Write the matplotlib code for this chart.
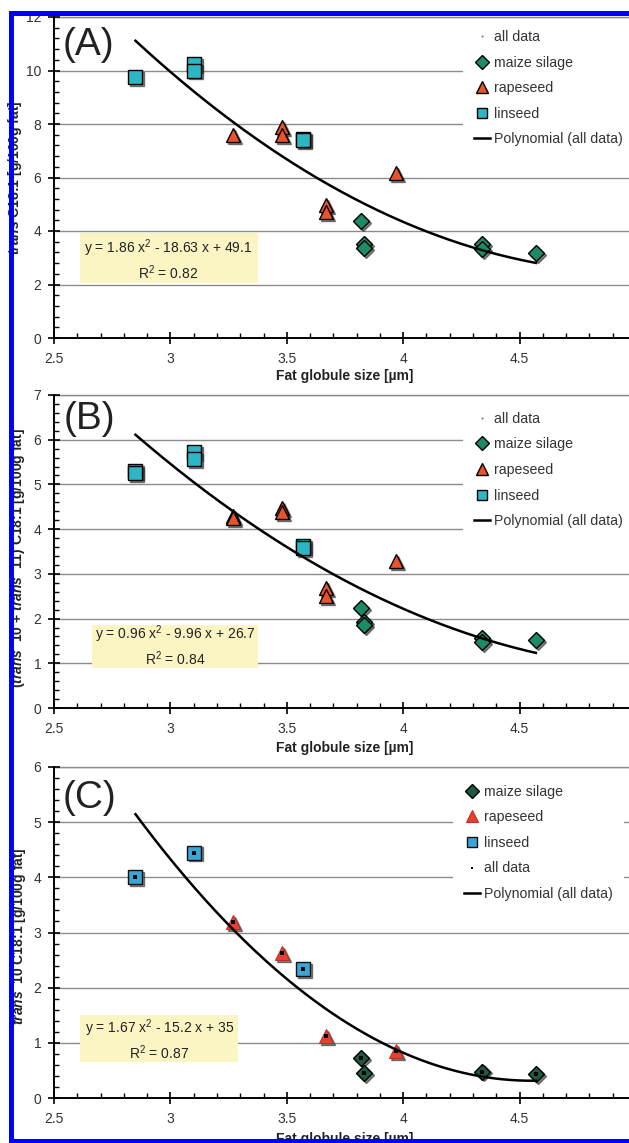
import numpy as np
import matplotlib
matplotlib.use("Agg")
import matplotlib.pyplot as plt
from matplotlib.ticker import MultipleLocator
from matplotlib.lines import Line2D
from matplotlib.patches import Rectangle
from matplotlib.transforms import offset_copy

plt.rcParams["font.family"] = ["Liberation Sans", "DejaVu Sans"]
plt.rcParams["mathtext.fontset"] = "custom"
plt.rcParams["mathtext.rm"] = "Liberation Sans"
plt.rcParams["mathtext.it"] = "Liberation Sans:italic:bold"
plt.rcParams["mathtext.bf"] = "Liberation Sans:bold"
plt.rcParams["mathtext.default"] = "regular"

# ---------------------------------------------------------------------------
# Data (fat globule size [um] vs. fatty acid content)
# ---------------------------------------------------------------------------

# (A) trans C18:1
a_lin_x = [2.85, 3.10, 3.10, 3.57, 3.57]
a_lin_y = [9.75, 10.25, 10.0, 7.45, 7.4]
a_rape_x = [3.27, 3.48, 3.48, 3.67, 3.67, 3.97]
a_rape_y = [7.6, 7.9, 7.6, 4.97, 4.7, 6.17]
a_maize_x = [3.82, 3.83, 3.83, 4.34, 4.34, 4.57]
a_maize_y = [4.37, 3.5, 3.38, 3.5, 3.32, 3.18]
a_coef = [1.86, -18.63, 49.1]

# (B) trans 10 + trans 11 C18:1
b_lin_x = [2.85, 2.85, 3.10, 3.10, 3.57, 3.57]
b_lin_y = [5.3, 5.25, 5.73, 5.57, 3.63, 3.58]
b_rape_x = [3.27, 3.27, 3.48, 3.48, 3.67, 3.67, 3.97]
b_rape_y = [4.3, 4.25, 4.48, 4.38, 2.68, 2.5, 3.28]
b_maize_x = [3.82, 3.83, 3.83, 4.34, 4.34, 4.57]
b_maize_y = [2.23, 1.93, 1.86, 1.56, 1.48, 1.52]
b_coef = [0.96, -9.96, 26.7]

# (C) trans 10 C18:1
c_lin_x = [2.85, 3.10, 3.57]
c_lin_y = [4.01, 4.45, 2.34]
c_rape_x = [3.27, 3.48, 3.67, 3.97]
c_rape_y = [3.19, 2.63, 1.13, 0.85]
c_maize_x = [3.82, 3.83, 4.34, 4.57]
c_maize_y = [0.73, 0.46, 0.48, 0.44]
c_coef = [1.67, -15.2, 34.9]

equations = [
    "y = 1.86 x$^2$ - 18.63 x + 49.1\nR$^2$ = 0.82",
    "y = 0.96 x$^2$ - 9.96 x + 26.7\nR$^2$ = 0.84",
    "y = 1.67 x$^2$ - 15.2 x + 35\nR$^2$ = 0.87",
]
panel_tags = ["(A)", "(B)", "(C)"]
ylabels = [
    r"$\it{trans}$ C18:1 [g/100g fat]",
    r"($\it{trans}$  10 + $\it{trans}$  11) C18:1 [g/100g fat]",
    r"$\it{trans}$  10 C18:1 [g/100g fat]",
]
xlabel = "Fat globule size [\u00b5m]"

# ---------------------------------------------------------------------------
# Layout (pixel positions of the three panels in a 629x1143 image)
# ---------------------------------------------------------------------------
W, H = 629, 1143
fig = plt.figure(figsize=(W / 100, H / 100), dpi=100)


def px_axes(left, top, right, bottom):
    return fig.add_axes([left / W, 1 - bottom / H, (right - left) / W, (bottom - top) / H])


ax_a = px_axes(54, 17, 636, 338)
ax_b = px_axes(54, 395, 636, 708)
ax_c = px_axes(54, 767, 636, 1098)

styles_ab = {
    "lin": dict(marker="s", ms=9.5, mfc="#2db6c3", mec="black", mew=1.0),
    "rape": dict(marker="^", ms=10.5, mfc="#e9532c", mec="black", mew=1.0),
    "maize": dict(marker="D", ms=8.5, mfc="#1e8b68", mec="black", mew=1.0),
    "all": dict(marker="o", ms=2, mfc="#8a8a8a", mec="#8a8a8a", mew=0),
}
styles_c = {
    "lin": dict(marker="s", ms=9.5, mfc="#3aa6d6", mec="#111111", mew=1.0),
    "rape": dict(marker="^", ms=10.5, mfc="#e8402f", mec="#c03020", mew=0.8),
    "maize": dict(marker="D", ms=8.5, mfc="#1e5a40", mec="black", mew=1.0),
    "all": dict(marker="s", ms=2.2, mfc="black", mec="black", mew=0),
}


def draw_series(ax, x, y, st):
    shadow = offset_copy(ax.transData, fig=fig, x=1.4, y=-1.4, units="points")
    ax.plot(x, y, ls="none", marker=st["marker"], ms=st["ms"], mfc="#303030",
            mec="#303030", alpha=0.6, transform=shadow, zorder=3)
    ax.plot(x, y, ls="none", zorder=4, **st)


def tick_fmt(v, pos):
    # the 5.0 label falls outside the cropped picture
    return "" if v > 4.95 and v < 5.05 else f"{v:g}"


panels = [
    (ax_a, a_lin_x, a_lin_y, a_rape_x, a_rape_y, a_maize_x, a_maize_y, a_coef, (0, 12), 2, 0.4),
    (ax_b, b_lin_x, b_lin_y, b_rape_x, b_rape_y, b_maize_x, b_maize_y, b_coef, (0, 7), 1, 0.2),
    (ax_c, c_lin_x, c_lin_y, c_rape_x, c_rape_y, c_maize_x, c_maize_y, c_coef, (0, 6), 1, 0.2),
]

# per-panel text positions (axes fraction)
box_rects = [(0.0447, 0.171, 0.305, 0.156), (0.065, 0.128, 0.286, 0.137), (0.0447, 0.109, 0.272, 0.142)]
eq_pos = [(0.196, 0.243), (0.208, 0.199), (0.181, 0.177)]
tag_pos = [(0.014, 0.913), (0.016, 0.923), (0.014, 0.906)]
ylab_x = [-0.052, -0.047, -0.044]
ylab_y = [0.5, 0.48, 0.49]
xlab_y = [-0.098, -0.106, -0.104]
leg_anchor = [(0.702, 0.995), (0.702, 0.983), (0.685, 0.981)]

for i, (ax, lx, ly, rx, ry, mx, my, coef, ylim, major, minor) in enumerate(panels):
    st = styles_c if i == 2 else styles_ab
    all_x = np.array(lx + rx + mx)
    all_y = np.array(ly + ry + my)

    if i < 2:
        ax.plot(all_x, all_y, ls="none", zorder=2, **st["all"])
    draw_series(ax, mx, my, st["maize"])
    draw_series(ax, rx, ry, st["rape"])
    draw_series(ax, lx, ly, st["lin"])
    if i == 2:
        ax.plot(all_x, all_y, ls="none", zorder=5, **st["all"])

    # second-order trend line (all data), coefficients as printed on the chart
    xs = np.linspace(all_x.min(), all_x.max(), 200)
    ax.plot(xs, np.polyval(coef, xs), color="black", lw=1.8, zorder=6)

    ax.set_xlim(2.5, 5.0)
    ax.set_ylim(*ylim)
    ax.xaxis.set_major_locator(MultipleLocator(0.5))
    ax.xaxis.set_minor_locator(MultipleLocator(0.1))
    ax.yaxis.set_major_locator(MultipleLocator(major))
    ax.yaxis.set_minor_locator(MultipleLocator(minor))
    ax.xaxis.set_major_formatter(tick_fmt)
    ax.yaxis.set_major_formatter(lambda v, p: f"{v:g}")
    ax.tick_params(which="major", direction="inout", length=8, width=1.2,
                   labelsize=10, labelcolor="#333333", pad=5)
    ax.tick_params(axis="x", which="major", pad=6)
    ax.tick_params(which="minor", direction="in", length=3.5, width=1.0)
    ax.grid(axis="y", which="major", color="#8c8c8c", lw=1.0, zorder=0)
    ax.set_axisbelow(True)
    for s in ("top", "right"):
        ax.spines[s].set_visible(False)
    for s in ("left", "bottom"):
        ax.spines[s].set_linewidth(1.4)
    ax.axhline(ylim[1], color="#8c8c8c", lw=1.0, zorder=0, clip_on=False)

    ax.set_xlabel(xlabel, fontsize=10, fontweight="bold", color="#222222")
    ax.xaxis.set_label_coords(0.5, xlab_y[i])
    ax.set_ylabel(ylabels[i], fontsize=10, fontweight="bold", color="#222222")
    ax.yaxis.set_label_coords(ylab_x[i], ylab_y[i])

    ax.text(*tag_pos[i], panel_tags[i], transform=ax.transAxes, fontsize=28,
            ha="left", va="center", color="#222222")

    bx, by, bw, bh = box_rects[i]
    ax.add_patch(Rectangle((bx, by), bw, bh, transform=ax.transAxes,
                           fc="#fbf5c4", ec="none", zorder=1))
    ax.text(*eq_pos[i], equations[i], transform=ax.transAxes, fontsize=10,
            ha="center", va="center", multialignment="center",
            linespacing=1.3, color="#222222", zorder=2)

    h_all = Line2D([], [], ls="none", **st["all"])
    h_maize = Line2D([], [], ls="none", **st["maize"])
    h_rape = Line2D([], [], ls="none", **st["rape"])
    h_lin = Line2D([], [], ls="none", **st["lin"])
    h_poly = Line2D([], [], color="black", lw=1.8)
    if i < 2:
        handles = [h_all, h_maize, h_rape, h_lin, h_poly]
        labels = ["all data", "maize silage", "rapeseed", "linseed", "Polynomial (all data)"]
    else:
        handles = [h_maize, h_rape, h_lin, h_all, h_poly]
        labels = ["maize silage", "rapeseed", "linseed", "all data", "Polynomial (all data)"]
    for h in handles[:4]:
        h.set_markersize(h.get_markersize() * 0.8)
    leg = ax.legend(handles, labels, loc="upper left", bbox_to_anchor=leg_anchor[i],
                    borderaxespad=0, borderpad=0.8, frameon=True, fancybox=False,
                    framealpha=1, edgecolor="none", facecolor="white",
                    fontsize=10.2, labelspacing=0.82, handlelength=1.15,
                    handletextpad=0.25)
    leg.set_zorder(7)
    for t in leg.get_texts():
        t.set_color("#333333")

# blue selection frame around the figure
blue = "#0000ff"
fig.add_artist(Rectangle((9 / W, 0), 5 / W, 1 - 11 / H, transform=fig.transFigure,
                         fc=blue, ec="none", zorder=20))
fig.add_artist(Rectangle((9 / W, 1 - 16 / H), 1, 5 / H, transform=fig.transFigure,
                         fc=blue, ec="none", zorder=20))
fig.add_artist(Rectangle((9 / W, 0), 1, 4 / H, transform=fig.transFigure,
                         fc=blue, ec="none", zorder=20))

fig.savefig("out.png", dpi=100)
